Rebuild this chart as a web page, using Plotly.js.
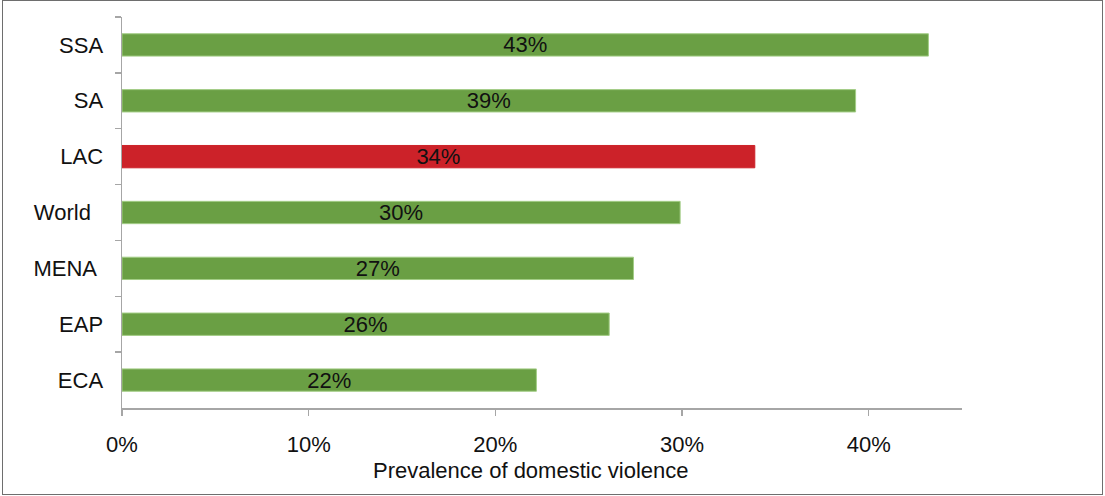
<!DOCTYPE html>
<html>
<head>
<meta charset="utf-8">
<script src="https://cdn.plot.ly/plotly-3.0.1.min.js"></script>
<style>
  html, body { margin: 0; padding: 0; background: #fff; }
  #wrap { position: relative; width: 1105px; height: 496px; }
  #chart { position: absolute; left: 0; top: 0; width: 1105px; height: 496px; }
  #frame { position: absolute; left: 2px; top: 0px; width: 1099px; height: 493px;
           border: 1.5px solid #6e6e6e; pointer-events: none; }
</style>
</head>
<body>
<div id="wrap">
  <div id="chart"></div>
  <div id="frame"></div>
</div>
<script>
// Data (top-level arrays)
const regions = ["SSA", "SA", "LAC", "World\u00a0\u00a0", "MENA\u00a0", "EAP", "ECA"];
const prevalence = [43.2, 39.3, 33.9, 29.9, 27.4, 26.1, 22.2];
const valueLabels = ["43%", "39%", "34%", "30%", "27%", "26%", "22%"];
const highlight = "LAC";
const xTickVals = [0, 10, 20, 30, 40];
const xTickText = ["0%", "10%", "20%", "30%", "40%"];
const xTitle = "Prevalence of domestic violence";

const GREEN = "#6a9f44";
const RED = "#cc2229";
const barColors = regions.map(r => r === highlight ? RED : GREEN);
const lineColors = regions.map(r => r === highlight ? RED : "#a3cd86");

const FONT = "'Liberation Sans', Arial, Helvetica, sans-serif";
const FS = 22;

const trace = {
  type: "bar",
  orientation: "h",
  y: regions,
  x: prevalence,
  text: valueLabels,
  textposition: "inside",
  insidetextanchor: "middle",
  constraintext: "none",
  textfont: { family: FONT, size: FS, color: "#111" },
  marker: { color: barColors, line: { color: lineColors, width: 1 } },
  hoverinfo: "skip"
};

const layout = {
  width: 1105,
  height: 496,
  margin: { l: 122, r: 143, t: 17, b: 88 },
  paper_bgcolor: "#ffffff",
  plot_bgcolor: "#ffffff",
  font: { family: FONT, size: FS, color: "#111" },
  bargap: 0.6,
  showlegend: false,
  xaxis: {
    range: [0, 45],
    tickvals: xTickVals,
    ticktext: xTickText,
    showgrid: false,
    zeroline: false,
    showline: true,
    linecolor: "#a6a6a6",
    linewidth: 1.5,
    ticks: "outside",
    ticklen: 6,
    tickwidth: 1.5,
    tickcolor: "#a6a6a6",
    ticklabelstandoff: 10,
    tickfont: { family: FONT, size: FS, color: "#111" },
    fixedrange: true
  },
  yaxis: {
    type: "category",
    categoryorder: "array",
    categoryarray: regions,
    autorange: "reversed",
    showgrid: false,
    zeroline: false,
    showline: true,
    linecolor: "#a6a6a6",
    linewidth: 1.5,
    ticks: "outside",
    tickson: "boundaries",
    ticklen: 6,
    tickwidth: 1.5,
    tickcolor: "#a6a6a6",
    ticklabelstandoff: 13,
    tickfont: { family: FONT, size: FS, color: "#111" },
    fixedrange: true
  },
  annotations: [{
    text: xTitle,
    xref: "paper", yref: "paper",
    x: 0.487, y: 0,
    xanchor: "center", yanchor: "middle",
    yshift: -62,
    showarrow: false,
    font: { family: FONT, size: FS, color: "#111" }
  }]
};

Plotly.newPlot("chart", [trace], layout, { displayModeBar: false, staticPlot: true });
</script>
</body>
</html>
